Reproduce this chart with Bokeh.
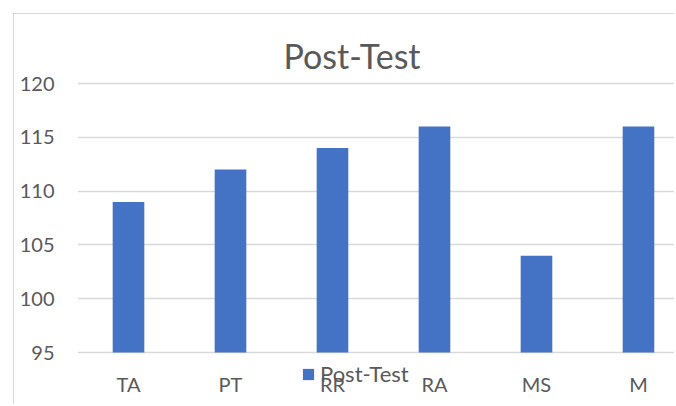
import numpy as np
from bokeh.plotting import figure
from bokeh.models import (Range1d, FixedTicker, Legend, LegendItem, ColumnDataSource,
                          Title)
from bokeh.embed import file_html
from bokeh.resources import INLINE

categories = ["TA", "PT", "RR", "RA", "MS", "M"]
post_test = [109, 112, 114, 116, 104, 116]
y_ticks = [95, 100, 105, 110, 115, 120]
series_name = "Post-Test"
chart_title = "Post-Test"

TEXT = "#595959"
GRID = "#d9d9d9"
BAR = "#4472C4"
FONT = "Lato"

x_pos = np.arange(len(categories)) + 0.5
src = ColumnDataSource(dict(x=x_pos, top=post_test, cat=categories))

W, H = 661, 391
p = figure(width=W, height=H, output_backend="svg", toolbar_location=None,
           title=None,
           x_range=Range1d(0, 5.863), y_range=Range1d(90.82, 120.19),
           min_border_left=63, min_border_right=0, min_border_top=67,
           min_border_bottom=8)
p.styles = {"margin-left": "13px", "margin-top": "13px",
            "border-left": "1px solid #d9d9d9", "border-top": "1px solid #d9d9d9"}
p.outline_line_color = None
p.background_fill_color = "white"
p.border_fill_color = "white"

r = p.vbar(x="x", top="top", bottom=y_ticks[0], width=0.31, source=src,
           fill_color=BAR, line_color=None)

# title
t = Title(text=chart_title, text_font=FONT, text_font_size="34px",
          text_font_style="normal", text_color=TEXT, align="left",
          offset=206, standoff=12)
p.add_layout(t, "above")

# y axis
p.yaxis.ticker = FixedTicker(ticks=y_ticks)
p.yaxis.axis_line_color = None
p.yaxis.major_tick_line_color = None
p.yaxis.minor_tick_line_color = None
p.yaxis.major_tick_out = 0
p.yaxis.major_tick_in = 0
p.yaxis.minor_tick_out = 0
p.yaxis.major_label_standoff = 23
p.yaxis.major_label_text_font = FONT
p.yaxis.major_label_text_font_size = "20px"
p.yaxis.major_label_text_color = TEXT

# x axis (labels sit below the 95 line, inside the extended frame)
p.xaxis.ticker = FixedTicker(ticks=list(x_pos))
p.xaxis.major_label_overrides = {float(x): c for x, c in zip(x_pos, categories)}
p.xaxis.axis_line_color = None
p.xaxis.major_tick_line_color = None
p.xaxis.minor_tick_line_color = None
p.xaxis.major_tick_out = 0
p.xaxis.major_tick_in = 0
p.xaxis.minor_tick_out = 0
p.xaxis.major_label_standoff = -26
p.xaxis.major_label_text_font = FONT
p.xaxis.major_label_text_font_size = "20px"
p.xaxis.major_label_text_color = TEXT

p.xgrid.grid_line_color = None
p.ygrid.ticker = FixedTicker(ticks=y_ticks)
p.ygrid.grid_line_color = GRID
p.ygrid.grid_line_width = 1.5

legend = Legend(items=[LegendItem(label=series_name, renderers=[r])],
                location=(224, 10), orientation="horizontal",
                padding=0, margin=0, border_line_color=None,
                background_fill_alpha=0, glyph_width=14, glyph_height=14,
                label_height=14, label_standoff=5, label_text_font=FONT,
                label_text_font_size="22px", label_text_color=TEXT)
p.add_layout(legend, "center")

open("out.html", "w").write(file_html(p, INLINE))
